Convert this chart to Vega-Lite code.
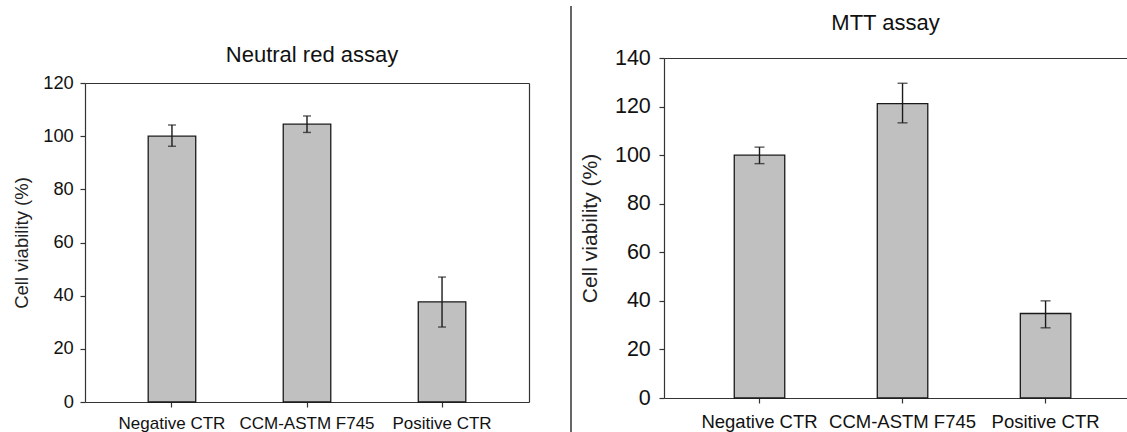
{
  "$schema": "https://vega.github.io/schema/vega-lite/v6.json",
  "padding": {"left": 12, "top": 5, "right": 0, "bottom": 0},
  "background": "white",
  "datasets": {
    "nr": [
      {"group": "Negative CTR", "mean": 100, "lo": 96.2, "hi": 104.2},
      {"group": "CCM-ASTM F745", "mean": 104.5, "lo": 101.4, "hi": 107.6},
      {"group": "Positive CTR", "mean": 37.7, "lo": 28.2, "hi": 47.0}
    ],
    "mtt": [
      {"group": "Negative CTR", "mean": 100, "lo": 96.5, "hi": 103.3},
      {"group": "CCM-ASTM F745", "mean": 121.2, "lo": 113.3, "hi": 129.6},
      {"group": "Positive CTR", "mean": 34.8, "lo": 28.9, "hi": 40.0}
    ]
  },
  "spacing": 7,
  "hconcat": [
    {
      "width": 444,
      "height": 344,
      "data": {"name": "nr"},
      "title": {"text": "Neutral red assay", "fontSize": 22, "offset": 0, "dy": 9.3, "dx": 5},
      "view": {"stroke": null},
      "resolve": {"axis": {"x": "independent", "y": "independent"}},
      "layer": [
        {
          "mark": {"type": "bar", "fill": "#c0c0c0", "stroke": "#1a1a1a", "strokeWidth": 1.3},
          "encoding": {
            "x": {
              "field": "group", "type": "nominal", "sort": null,
              "scale": {"paddingInner": 0.648, "paddingOuter": 0.468},
              "axis": {"title": null, "orient": "bottom", "labelAngle": 0, "labelFontSize": 17, "labelPadding": 8}
            },
            "y": {
              "field": "mean", "type": "quantitative", "title": "Cell viability (%)",
              "scale": {"domain": [0, 120], "range": [344, 25]},
              "axis": {"values": [0, 20, 40, 60, 80, 100, 120], "labelFontSize": 18.3, "titleFontSize": 18.5, "labelPadding": 6.7, "titlePadding": 11}
            }
          }
        },
        {
          "mark": {"type": "rule", "stroke": "#1a1a1a", "strokeWidth": 1.4},
          "encoding": {
            "x": {"field": "group", "type": "nominal", "sort": null, "axis": null},
            "y": {"field": "lo", "type": "quantitative", "axis": null},
            "y2": {"field": "hi"}
          }
        },
        {
          "mark": {"type": "tick", "color": "#1a1a1a", "size": 8, "thickness": 1.4},
          "encoding": {
            "x": {"field": "group", "type": "nominal", "sort": null, "axis": {"orient": "top", "offset": -25, "title": null, "labels": false, "ticks": false, "domain": true}},
            "y": {"field": "lo", "type": "quantitative", "axis": {"orient": "right", "title": null, "labels": false, "ticks": false, "domain": true}}
          }
        },
        {
          "mark": {"type": "tick", "color": "#1a1a1a", "size": 8, "thickness": 1.4},
          "encoding": {
            "x": {"field": "group", "type": "nominal", "sort": null, "axis": null},
            "y": {"field": "hi", "type": "quantitative", "axis": null}
          }
        }
      ]
    },
    {
      "width": 35,
      "height": 340,
      "data": {"values": [{}]},
      "view": {"stroke": null},
      "mark": {"type": "rule", "color": "#000", "strokeWidth": 1.2},
      "encoding": {
        "x": {"datum": 1, "type": "quantitative", "scale": {"domain": [0, 1]}, "axis": null},
        "y": {"datum": 0, "type": "quantitative", "scale": {"domain": [0, 1], "range": [374, -52]}, "axis": null},
        "y2": {"datum": 1}
      }
    },
    {
      "width": 465,
      "height": 340,
      "data": {"name": "mtt"},
      "title": {"text": ["", "MTT assay"], "lineHeight": 6, "fontSize": 22, "offset": 11.7, "dx": -11},
      "view": {"stroke": null},
      "resolve": {"axis": {"x": "independent"}},
      "layer": [
        {
          "mark": {"type": "bar", "fill": "#c0c0c0", "stroke": "#1a1a1a", "strokeWidth": 1.3},
          "encoding": {
            "x": {
              "field": "group", "type": "nominal", "sort": null,
              "scale": {"paddingInner": 0.647, "paddingOuter": 0.449, "align": 0.547},
              "axis": {"title": null, "orient": "bottom", "labelAngle": 0, "labelFontSize": 18.5, "labelPadding": 9.5}
            },
            "y": {
              "field": "mean", "type": "quantitative", "title": "Cell viability (%)",
              "scale": {"domain": [0, 140]},
              "axis": {"values": [0, 20, 40, 60, 80, 100, 120, 140], "labelFontSize": 21.5, "titleFontSize": 21, "labelPadding": 8.7, "titlePadding": 14}
            }
          }
        },
        {
          "mark": {"type": "rule", "stroke": "#1a1a1a", "strokeWidth": 1.4},
          "encoding": {
            "x": {"field": "group", "type": "nominal", "sort": null, "axis": null},
            "y": {"field": "lo", "type": "quantitative", "title": "Cell viability (%)"},
            "y2": {"field": "hi"}
          }
        },
        {
          "mark": {"type": "tick", "color": "#1a1a1a", "size": 10, "thickness": 1.4},
          "encoding": {
            "x": {"field": "group", "type": "nominal", "sort": null, "axis": {"orient": "top", "title": null, "labels": false, "ticks": false, "domain": true}},
            "y": {"field": "lo", "type": "quantitative", "title": "Cell viability (%)"}
          }
        },
        {
          "mark": {"type": "tick", "color": "#1a1a1a", "size": 10, "thickness": 1.4},
          "encoding": {
            "x": {"field": "group", "type": "nominal", "sort": null, "axis": null},
            "y": {"field": "hi", "type": "quantitative", "title": "Cell viability (%)"}
          }
        }
      ]
    }
  ],
  "config": {
    "font": "Liberation Sans",
    "axis": {
      "domainColor": "#333", "domainWidth": 1.2, "tickColor": "#333", "tickWidth": 1.2, "tickSize": 5,
      "labelColor": "#111", "titleColor": "#222", "titleFontWeight": "normal", "grid": false,
      "labelFont": "Liberation Sans", "titleFont": "Liberation Sans", "labelOverlap": false, "labelLimit": 400
    },
    "title": {"font": "Liberation Sans", "fontWeight": "normal", "color": "#111", "anchor": "middle"}
  }
}
